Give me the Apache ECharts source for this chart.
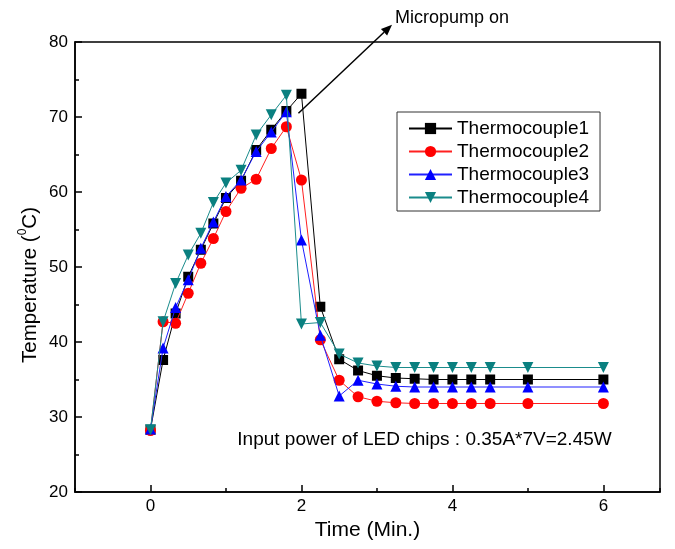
<!DOCTYPE html>
<html>
<head>
<meta charset="utf-8">
<script src="https://cdn.jsdelivr.net/npm/echarts@6/dist/echarts.min.js"></script>
<style>
html,body{margin:0;padding:0;background:#fff;}
#chart{width:675px;height:549px;}
</style>
</head>
<body>
<div id="chart"></div>
<script>
// ---- data ----
const times = [0, 0.167, 0.333, 0.5, 0.667, 0.833, 1.0, 1.2, 1.4, 1.6, 1.8, 2.0, 2.25, 2.5, 2.75, 3.0, 3.25, 3.5, 3.75, 4.0, 4.25, 4.5, 5.0, 6.0];
const seriesNames = ['Thermocouple1', 'Thermocouple2', 'Thermocouple3', 'Thermocouple4'];
const tc1 = [28.3, 37.6, 43.8, 48.7, 52.3, 55.8, 59.2, 61.5, 65.6, 68.3, 70.8, 73.1, 44.7, 37.7, 36.2, 35.5, 35.2, 35.1, 35.0, 35.0, 35.0, 35.0, 35.0, 35.0];
const tc2 = [28.2, 42.7, 42.5, 46.5, 50.5, 53.8, 57.4, 60.5, 61.7, 65.8, 68.7, 61.6, 40.3, 34.9, 32.7, 32.1, 31.9, 31.8, 31.8, 31.8, 31.8, 31.8, 31.8, 31.8];
const tc3 = [28.4, 39.2, 44.6, 48.3, 52.5, 56.0, 59.4, 61.6, 65.4, 68.0, 70.7, 53.6, 40.9, 32.8, 34.9, 34.4, 34.1, 34.0, 34.0, 34.0, 34.0, 34.0, 34.0, 34.0];
const tc4 = [28.3, 42.7, 47.8, 51.6, 54.5, 58.6, 61.2, 62.9, 67.6, 70.3, 72.9, 42.4, 42.6, 38.4, 37.2, 36.8, 36.6, 36.6, 36.6, 36.6, 36.6, 36.6, 36.6, 36.6];
const xMin = -1, xMax = 6.75;
const yMin = 20, yMax = 80, yInterval = 10;
const xTitle = 'Time (Min.)';
const noteText = 'Input power of LED chips : 0.35A*7V=2.45W';
const pumpText = 'Micropump on';
// annotation anchors in data coordinates
const arrowFrom = [1.96, 70.5];
const arrowTo = [3.2, 82.3];

const FONT = '"Liberation Sans", Arial, sans-serif';
const pair = arr => times.map((t, i) => [t, arr[i]]);

const chart = echarts.init(document.getElementById('chart'), null, {renderer: 'canvas'});

const styles = [
  {color: '#000000', line: '#000000', symbol: 'rect', size: 10, rotate: 0},
  {color: '#ff0000', line: '#ff2020', symbol: 'circle', size: 11, rotate: 0},
  {color: '#0000ff', line: '#2020ff', symbol: 'triangle', size: 11, rotate: 0},
  {color: '#0a8080', line: '#1a8c8c', symbol: 'triangle', size: 11, rotate: 180}
];
const dataSets = [tc1, tc2, tc3, tc4];

const option = {
  animation: false,
  backgroundColor: '#fff',
  textStyle: {fontFamily: FONT},
  grid: {left: 75, right: 15, top: 42, bottom: 57, show: true, borderColor: '#000', borderWidth: 1.5, backgroundColor: 'transparent'},
  legend: {
    orient: 'vertical',
    left: 397, top: 112,
    padding: [7, 11, 4, 11],
    itemWidth: 43, itemHeight: 14, itemGap: 4,
    borderColor: '#333', borderWidth: 1,
    textStyle: {fontSize: 19, color: '#000', fontFamily: FONT},
    data: seriesNames
  },
  xAxis: [
    {
      type: 'value', min: xMin, max: xMax, position: 'bottom',
      axisLine: {show: true, onZero: false, lineStyle: {color: '#000', width: 1.5}},
      axisTick: {show: true, inside: true, length: 7, lineStyle: {color: '#000', width: 1.5}},
      axisLabel: {showMinLabel: false, showMaxLabel: false, fontSize: 17, color: '#000', margin: 6, fontFamily: FONT},
      splitLine: {show: false},
      name: xTitle, nameLocation: 'middle', nameGap: 27,
      nameTextStyle: {fontSize: 21, color: '#000', fontFamily: FONT}
    },
    {
      type: 'value', min: xMin, max: xMax, interval: 1, position: 'bottom',
      axisLine: {show: false, onZero: false},
      axisTick: {show: true, inside: true, length: 4, lineStyle: {color: '#000', width: 1.5}},
      axisLabel: {show: false},
      splitLine: {show: false}
    }
  ],
  yAxis: {
    type: 'value', min: yMin, max: yMax, interval: yInterval, position: 'left',
    axisLine: {show: true, onZero: false, lineStyle: {color: '#000', width: 1.5}},
    axisTick: {show: true, inside: true, length: 7, lineStyle: {color: '#000', width: 1.5}},
    minorTick: {show: true, splitNumber: 2, length: 4, lineStyle: {color: '#000', width: 1.5}},
    axisLabel: {fontSize: 17, color: '#000', margin: 7, fontFamily: FONT},
    splitLine: {show: false}
  },
  series: dataSets.map((d, i) => ({
    name: seriesNames[i],
    type: 'line',
    xAxisIndex: 0,
    data: pair(d),
    symbol: styles[i].symbol,
    symbolSize: styles[i].size,
    symbolRotate: styles[i].rotate,
    showAllSymbol: true,
    itemStyle: {color: styles[i].color, opacity: 1},
    lineStyle: {color: styles[i].line, width: 1},
    z: 2 + i
  }))
};
chart.setOption(option);

// annotations positioned via the axes
const px = (t, v) => chart.convertToPixel({xAxisIndex: 0, yAxisIndex: 0}, [t, v]);
const a0 = px(arrowFrom[0], arrowFrom[1]);
const a1 = px(arrowTo[0], arrowTo[1]);
const ang = Math.atan2(a1[1] - a0[1], a1[0] - a0[0]);
const hl = 11, hw = 4.5;
const base = [a1[0] - hl * Math.cos(ang), a1[1] - hl * Math.sin(ang)];
const head = [
  a1,
  [base[0] + hw * Math.sin(ang), base[1] - hw * Math.cos(ang)],
  [base[0] - hw * Math.sin(ang), base[1] + hw * Math.cos(ang)]
];
const notePos = px(1.15, 26.9);
const plotTop = px(0, yMax)[1], plotBottom = px(0, yMin)[1];

chart.setOption({
  graphic: [
    {type: 'line', shape: {x1: a0[0], y1: a0[1], x2: base[0], y2: base[1]}, style: {stroke: '#000', lineWidth: 1.5}, z: 100},
    {type: 'polygon', shape: {points: head}, style: {fill: '#000'}, z: 100},
    {type: 'text', x: a1[0] + 3, y: 18, style: {text: pumpText, font: '18px ' + FONT, fill: '#000', align: 'left', verticalAlign: 'middle'}, z: 100},
    {type: 'text', x: notePos[0], y: notePos[1], style: {text: noteText, font: '19px ' + FONT, fill: '#000', align: 'left', verticalAlign: 'middle'}, z: 100},
    {
      type: 'text', x: 30, y: (plotTop + plotBottom) / 2 + 18, rotation: Math.PI / 2,
      style: {
        text: 'Temperature ({s|0}C)',
        fontSize: 20.5, fontFamily: FONT, fill: '#000', lineHeight: 26,
        align: 'center', verticalAlign: 'middle',
        rich: {s: {fontSize: 12, fontFamily: FONT, fill: '#000', verticalAlign: 'top', lineHeight: 14}}
      },
      z: 100
    }
  ]
});
</script>
</body>
</html>
